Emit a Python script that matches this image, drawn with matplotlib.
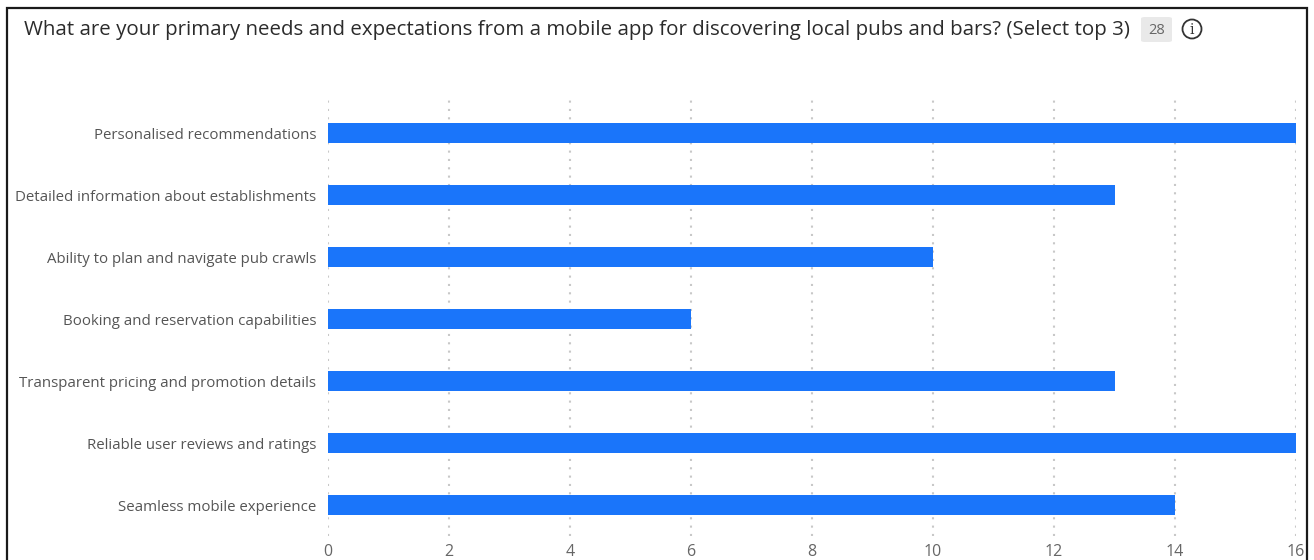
import matplotlib.pyplot as plt
from matplotlib.patches import Rectangle, Ellipse, FancyBboxPatch

plt.rcParams['font.family'] = ['Open Sans', 'DejaVu Sans']

categories = [
    "Personalised recommendations",
    "Detailed information about establishments",
    "Ability to plan and navigate pub crawls",
    "Booking and reservation capabilities",
    "Transparent pricing and promotion details",
    "Reliable user reviews and ratings",
    "Seamless mobile experience",
]
counts = [16, 13, 10, 6, 13, 16, 14]
xticks = [0, 2, 4, 6, 8, 10, 12, 14, 16]
title = "What are your primary needs and expectations from a mobile app for discovering local pubs and bars? (Select top 3)"
respondents = 28

W, H = 1314, 560
fig = plt.figure(figsize=(W / 100, H / 100), dpi=100)
fig.patch.set_facecolor('white')

# outer card border (bottom edge runs off the image)
fig.patches.append(Rectangle((7 / W, -0.05), 1300 / W, 1.05 - 8 / H,
                             transform=fig.transFigure, fill=False,
                             edgecolor='#1a1a1a', linewidth=1.6))

ax = fig.add_axes([328 / W, 1 - 536 / H, (1296 - 328) / W, (536 - 98) / H])
ypos = list(range(len(categories)))
ax.barh(ypos, counts, height=0.33, color='#1a75fa', zorder=3)

ax.set_xlim(0, 16)
ax.set_ylim(6.5, -0.565)
ax.set_xticks(xticks)
ax.set_xticklabels([str(t) for t in xticks], fontsize=11.5, color='#666666')
ax.set_yticks(ypos)
ax.set_yticklabels(categories, fontsize=10.85, color='#555555')
ax.tick_params(axis='both', length=0)
ax.tick_params(axis='y', pad=8.5)
ax.tick_params(axis='x', pad=6)
ax.grid(axis='x', linestyle=(0, (1, 3)), color='#c8c8c8', linewidth=1.5, zorder=0)
for s in ax.spines.values():
    s.set_visible(False)

# header
fig.text(24 / W, 1 - 30 / H, title, fontsize=14.72, color='#2b2b2b', va='center', ha='left')
fig.patches.append(FancyBboxPatch((1141 / W, 1 - 42 / H), 31 / W, 25 / H,
                                  boxstyle='round,pad=0,rounding_size=0.003',
                                  transform=fig.transFigure, facecolor='#e9e9e9',
                                  edgecolor='none'))
fig.text(1156.5 / W, 1 - 30 / H, str(respondents), fontsize=10.5, color='#666666',
         ha='center', va='center')
fig.patches.append(Ellipse((1192 / W, 1 - 29 / H), 19 / W, 19 / H,
                           transform=fig.transFigure, fill=False,
                           edgecolor='#333333', linewidth=1.3))
fig.text(1192 / W, 1 - 29.5 / H, "i", fontsize=10, color='#333333', ha='center',
         va='center', family='DejaVu Serif', zorder=5)

fig.savefig('out.png', dpi=100)
